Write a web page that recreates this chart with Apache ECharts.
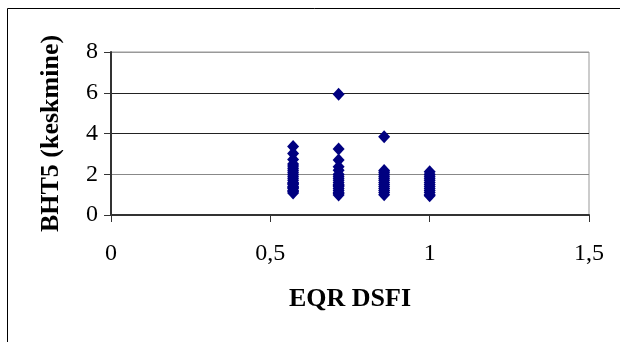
<!DOCTYPE html>
<html>
<head>
<meta charset="utf-8">
<script src="https://cdn.jsdelivr.net/npm/echarts@6/dist/echarts.min.js"></script>
<style>
  html, body { margin: 0; padding: 0; background: #fff; }
  #chart { width: 620px; height: 342px; }
</style>
</head>
<body>
<div id="chart"></div>
<script>
// EQR DSFI class values (x) and the BHT5 averages measured at each class (y)
const xClasses = [4 / 7, 5 / 7, 6 / 7, 1];
const bhtAt057 = [3.36, 3.02, 2.72, 2.5, 2.4, 2.3, 2.2, 2.1, 2.0, 1.9, 1.8, 1.7, 1.6, 1.55, 1.5, 1.4, 1.35, 1.3, 1.2, 1.15, 1.08];
const bhtAt071 = [5.93, 3.24, 2.7, 2.37, 2.2, 2.0, 1.9, 1.8, 1.7, 1.6, 1.5, 1.45, 1.4, 1.3, 1.2, 1.1, 1.05, 0.98];
const bhtAt086 = [3.84, 2.18, 2.1, 2.0, 1.9, 1.8, 1.7, 1.6, 1.5, 1.4, 1.3, 1.2, 1.1, 1.0];
const bhtAt100 = [2.12, 2.0, 1.9, 1.8, 1.7, 1.6, 1.5, 1.4, 1.3, 1.2, 1.1, 1.0, 0.95];
const xTicks = [0, 0.5, 1, 1.5];
const yTicks = [0, 2, 4, 6, 8];

const groups = [bhtAt057, bhtAt071, bhtAt086, bhtAt100];
const points = [];
groups.forEach((vals, i) => vals.forEach(v => points.push([xClasses[i], v])));

const serif = '"Liberation Serif", "Times New Roman", serif';
const comma = v => String(v).replace('.', ',');

const chart = echarts.init(document.getElementById('chart'), null, { renderer: 'canvas' });
chart.setOption({
  animation: false,
  backgroundColor: '#fff',
  graphic: [{
    type: 'rect',
    shape: { x: 7.5, y: 8.5, width: 640, height: 360 },
    style: { fill: 'none', stroke: '#000', lineWidth: 1 },
    silent: true
  }],
  grid: {
    left: 111, top: 52, right: 31, bottom: 127,
    show: true, borderColor: '#999', borderWidth: 1, backgroundColor: 'transparent'
  },
  xAxis: {
    type: 'value',
    min: xTicks[0], max: xTicks[xTicks.length - 1], interval: 0.5,
    name: 'EQR DSFI', nameLocation: 'middle', nameGap: 71,
    nameTextStyle: { fontFamily: serif, fontSize: 26, fontWeight: 'bold', color: '#000' },
    axisLine: { show: true, onZero: false, lineStyle: { color: '#333', width: 2 } },
    axisTick: { show: true, inside: false, length: 7, lineStyle: { color: '#333', width: 1 } },
    axisLabel: { fontFamily: serif, fontSize: 24, color: '#000', margin: 27, formatter: comma },
    splitLine: { show: false }
  },
  yAxis: {
    type: 'value',
    min: yTicks[0], max: yTicks[yTicks.length - 1], interval: 2,
    name: 'BHT5 (keskmine)', nameLocation: 'middle', nameGap: 47, nameRotate: 90,
    nameTextStyle: { fontFamily: serif, fontSize: 26, fontWeight: 'bold', color: '#000' },
    axisLine: { show: true, onZero: false, lineStyle: { color: '#333', width: 2 } },
    axisTick: { show: true, inside: false, length: 7, lineStyle: { color: '#333', width: 1 } },
    axisLabel: { fontFamily: serif, fontSize: 24, color: '#000', margin: 13, formatter: comma },
    splitLine: { show: true, lineStyle: { color: ['#333', '#888', '#222', '#222', '#999'], width: 1 } }
  },
  series: [{
    type: 'scatter',
    data: points,
    symbol: 'diamond',
    symbolSize: [12, 13],
    itemStyle: { color: '#000080', opacity: 1 }
  }]
});
</script>
</body>
</html>
